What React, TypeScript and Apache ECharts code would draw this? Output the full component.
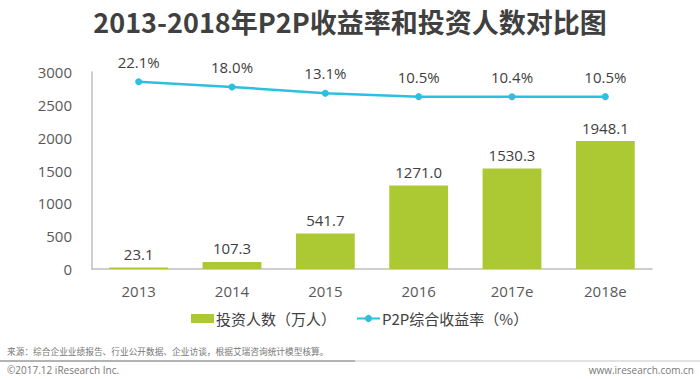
import React, { useEffect, useRef } from "react";
import * as echarts from "echarts";

const categories = ["2013", "2014", "2015", "2016", "2017e", "2018e"];
const investors = [23.1, 107.3, 541.7, 1271.0, 1530.3, 1948.1];
const yieldRate = [22.1, 18.0, 13.1, 10.5, 10.4, 10.5];
const leftTicks = [0, 500, 1000, 1500, 2000, 2500, 3000];

const FONT = "'Open Sans', 'Noto Sans CJK SC', sans-serif";
const CJK = "'Noto Sans CJK SC', sans-serif";

export default function App() {
  const ref = useRef<HTMLDivElement>(null);
  useEffect(() => {
    const chart = echarts.init(ref.current!, null, { renderer: "svg" });
    chart.setOption({
      animation: false,
      backgroundColor: "#ffffff",
      title: {
        text: "2013-2018年P2P收益率和投资人数对比图",
        left: 345,
        textAlign: "center",
        top: 3,
        textStyle: { fontFamily: CJK, fontSize: 27, fontWeight: "bold", color: "#404040" },
      },
      legend: {
        left: 186,
        top: 306,
        itemGap: 20,
        itemWidth: 23,
        itemHeight: 9,
        textStyle: { fontFamily: CJK, fontSize: 15, color: "#404040", padding: [0, 0, 0, -3] },
        data: [
          { name: "投资人数（万人）", icon: "rect" },
          { name: "P2P综合收益率（%）" },
        ],
      },
      grid: { left: 92, right: 48, top: 72, bottom: 110 },
      xAxis: {
        type: "category",
        data: categories,
        axisLine: { lineStyle: { color: "#bfbfbf", width: 1.5 } },
        axisTick: { show: false },
        axisLabel: { fontFamily: FONT, fontSize: 15, color: "#595959", margin: 14 },
      },
      yAxis: [
        {
          type: "value",
          min: leftTicks[0],
          max: leftTicks[leftTicks.length - 1],
          interval: 500,
          splitLine: { show: false },
          axisLine: { show: true, lineStyle: { color: "#bfbfbf", width: 1.5 } },
          axisTick: { show: false },
          axisLabel: {
            fontFamily: FONT,
            fontSize: 15,
            color: "#595959",
            margin: 20,
            formatter: (v: number) => String(v),
          },
        },
        {
          type: "value",
          min: -123,
          max: 29.6,
          show: false,
          splitLine: { show: false },
        },
      ],
      series: [
        {
          name: "投资人数（万人）",
          type: "bar",
          data: investors,
          barWidth: "63%",
          itemStyle: { color: "#acc933" },
          label: {
            show: true,
            position: "top",
            distance: 6,
            fontFamily: FONT,
            fontSize: 15,
            color: "#404040",
            formatter: (p: any) => p.value.toFixed(1),
          },
        },
        {
          name: "P2P综合收益率（%）",
          type: "line",
          yAxisIndex: 1,
          data: yieldRate,
          symbol: "circle",
          symbolSize: 7,
          lineStyle: { color: "#2dbfe0", width: 2.5 },
          itemStyle: { color: "#2dbfe0" },
          label: {
            show: true,
            position: "top",
            distance: 9,
            fontFamily: FONT,
            fontSize: 15,
            color: "#404040",
            formatter: (p: any) => p.value.toFixed(1) + "%",
          },
        },
      ],
      graphic: [
        {
          type: "text",
          left: 7,
          top: 347,
          style: {
            text: "来源：综合企业业绩报告、行业公开数据、企业访谈，根据艾瑞咨询统计模型核算。",
            font: `8.7px ${CJK}`,
            fill: "#777777",
          },
        },
        {
          type: "line",
          shape: { x1: 0, y1: 361, x2: 355, y2: 361 },
          style: { stroke: "#9a9a9a", lineWidth: 1.5 },
        },
        {
          type: "line",
          shape: { x1: 355, y1: 361, x2: 700, y2: 361 },
          style: { stroke: "#d8d8d8", lineWidth: 1.5 },
        },
        {
          type: "text",
          left: 7,
          top: 365,
          style: { text: "©2017.12 iResearch Inc.", font: `10px ${FONT}`, fill: "#777777" },
        },
        {
          type: "text",
          right: 6,
          top: 365,
          style: { text: "www.iresearch.com.cn", font: `10px ${FONT}`, fill: "#777777" },
        },
      ],
    });
    return () => chart.dispose();
  }, []);
  return <div ref={ref} style={{ width: 700, height: 379, position: "absolute", left: 0, top: 0 }} />;
}
